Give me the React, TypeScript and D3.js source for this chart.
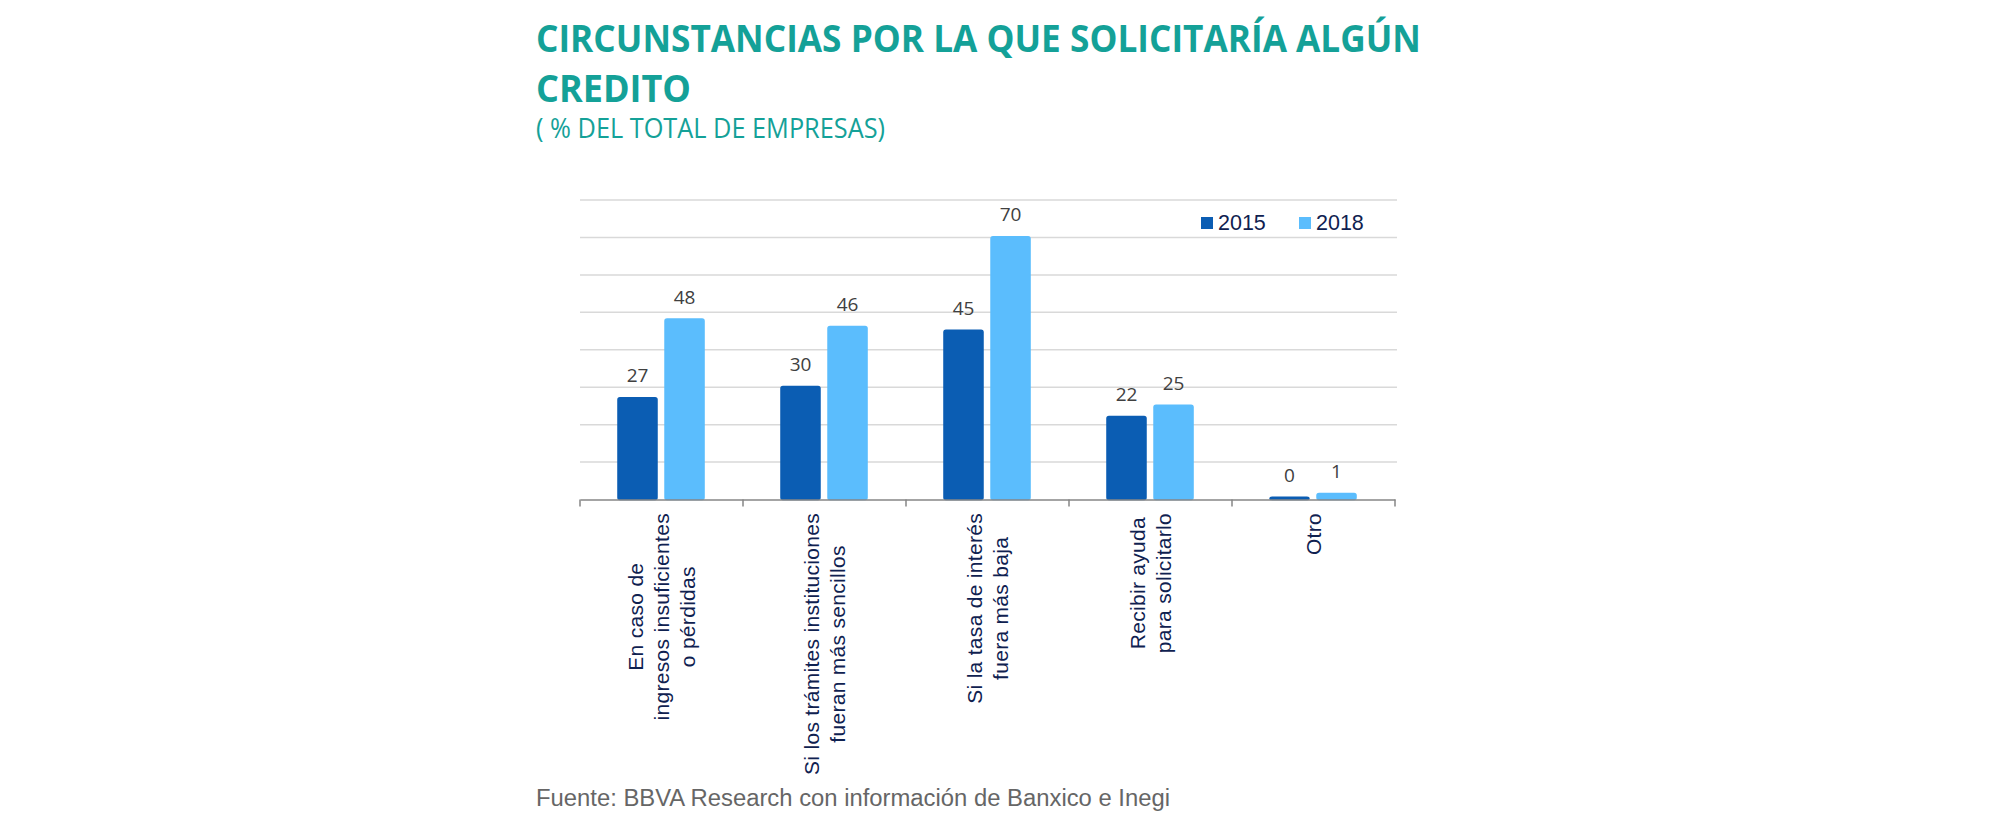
import { useRef, useEffect } from 'react'
import * as d3 from 'd3'

const CATEGORIES = [
  ['En caso de', 'ingresos insuficientes', 'o pérdidas'],
  ['Si los trámites instituciones', 'fueran más sencillos'],
  ['Si la tasa de interés', 'fuera más baja'],
  ['Recibir ayuda', 'para solicitarlo'],
  ['Otro'],
]
const YEARS = ['2015', '2018']
const VALUES_2015 = [27, 30, 45, 22, 0.4]
const VALUES_2018 = [48, 46, 70, 25, 1.4]
const Y_TICKS = [10, 20, 30, 40, 50, 60, 70, 80]

const COLORS = ['#0b5db3', '#5bbdfd']
const TEAL = '#14a198'
const NAVY = '#0f2150'

export default function App() {
  const svgRef = useRef<SVGSVGElement>(null)

  useEffect(() => {
    if (!svgRef.current) return
    const svg = d3.select(svgRef.current)
    svg.selectAll('*').remove()

    const width = 2001
    const height = 828
    svg.attr('width', width).attr('height', height).attr('viewBox', `0 0 ${width} ${height}`)

    // Titles
    svg.append('text')
      .attr('x', 536).attr('y', 52)
      .attr('textLength', 885).attr('lengthAdjust', 'spacingAndGlyphs')
      .style('font-family', '"Open Sans", sans-serif').style('font-weight', 700)
      .style('font-size', '37px').style('fill', TEAL)
      .text('CIRCUNSTANCIAS POR LA QUE SOLICITARÍA ALGÚN')
    svg.append('text')
      .attr('x', 536).attr('y', 102)
      .attr('textLength', 155).attr('lengthAdjust', 'spacingAndGlyphs')
      .style('font-family', '"Open Sans", sans-serif').style('font-weight', 700)
      .style('font-size', '37px').style('fill', TEAL)
      .text('CREDITO')
    svg.append('text')
      .attr('x', 536).attr('y', 138)
      .attr('textLength', 349).attr('lengthAdjust', 'spacingAndGlyphs')
      .style('font-family', '"Open Sans", sans-serif')
      .style('font-size', '27px').style('fill', TEAL)
      .text('( % DEL TOTAL DE EMPRESAS)')

    const keys = CATEGORIES.map((_, i) => String(i))
    const x0 = d3.scaleBand().domain(keys).range([580, 1395]).padding(0)
    const bw = x0.bandwidth()
    const x1 = d3.scaleBand().domain(YEARS).range([bw * 0.233, bw * 0.761]).paddingInner(0.17)
    const y = d3.scaleLinear().domain([0, 80]).range([499.5, 200])

    // Gridlines
    svg.append('g')
      .selectAll('line')
      .data(Y_TICKS)
      .join('line')
      .attr('x1', 580).attr('x2', 1397)
      .attr('y1', d => y(d)).attr('y2', d => y(d))
      .attr('stroke', '#d9d9d9').attr('stroke-width', 1.5)

    // Bars
    const data = CATEGORIES.map((_, i) => [VALUES_2015[i], VALUES_2018[i]])
    const groups = svg.selectAll('.grp')
      .data(data)
      .join('g')
      .attr('class', 'grp')
      .attr('transform', (_, i) => `translate(${x0(String(i))},0)`)

    groups.selectAll('rect')
      .data(d => d.map((v, j) => ({ v, j })))
      .join('rect')
      .attr('x', d => x1(YEARS[d.j])!)
      .attr('y', d => y(d.v) - 0.75)
      .attr('width', x1.bandwidth())
      .attr('height', d => y(0) - y(d.v) + 0.75)
      .attr('rx', 2)
      .attr('fill', d => COLORS[d.j])
      .attr('stroke', d => COLORS[d.j]).attr('stroke-width', 1.5)

    groups.selectAll('.lbl')
      .data(d => d.map((v, j) => ({ v, j })))
      .join('text')
      .attr('class', 'lbl')
      .attr('x', d => x1(YEARS[d.j])! + x1.bandwidth() / 2)
      .attr('y', d => y(d.v) - 16)
      .attr('text-anchor', 'middle')
      .style('font-family', '"Open Sans", sans-serif')
      .style('font-size', '19px').style('fill', '#404040')
      .text(d => d3.format('.0f')(Math.floor(d.v)))

    // X axis
    const axis = svg.append('g').attr('transform', `translate(0,${y(0)})`)
      .call(d3.axisBottom(x0).tickSize(0).tickFormat(() => ''))
    axis.select('.domain').attr('stroke', '#868686').attr('stroke-width', 1.5)
    axis.selectAll('.tick').remove()
    const bounds = keys.map(k => x0(k)!).concat([x0(keys[keys.length - 1])! + bw])
    axis.selectAll('.sep')
      .data(bounds)
      .join('line')
      .attr('class', 'sep')
      .attr('x1', d => d).attr('x2', d => d)
      .attr('y1', 0).attr('y2', 7)
      .attr('stroke', '#868686').attr('stroke-width', 1.5)

    // Category labels (rotated, lines centred on each other)
    CATEGORIES.forEach((lines, i) => {
      const cx = x0(String(i))! + bw / 2
      const lh = 26
      const t = svg.append('text')
        .attr('transform', `translate(${cx - ((lines.length - 1) * lh) / 2 + 7},513) rotate(-90)`)
        .attr('text-anchor', 'middle')
        .style('font-family', '"Liberation Sans", Arial, sans-serif')
        .style('font-size', '21px').style('letter-spacing', '0.3px').style('fill', NAVY)
      const spans = lines.map((l, k) =>
        t.append('tspan').attr('x', 0).attr('y', k * lh).attr('text-anchor', 'middle').text(l))
      const maxLen = d3.max(spans, s => (s.node() as SVGTextContentElement).getComputedTextLength()) ?? 0
      spans.forEach(s => s.attr('x', -maxLen / 2))
    })

    // Legend
    const legend = svg.append('g').attr('transform', 'translate(1201,217)')
    YEARS.forEach((yr, i) => {
      const g = legend.append('g').attr('transform', `translate(${i * 98},0)`)
      g.append('rect').attr('width', 12).attr('height', 12).attr('fill', COLORS[i])
      g.append('text').attr('x', 17).attr('y', 12.5)
        .style('font-family', '"Liberation Sans", Arial, sans-serif')
        .style('font-size', '21.5px').style('fill', NAVY).text(yr)
    })

    // Source
    svg.append('text')
      .attr('x', 536).attr('y', 806)
      .attr('textLength', 634).attr('lengthAdjust', 'spacingAndGlyphs')
      .style('font-family', '"Liberation Sans", Arial, sans-serif')
      .style('font-size', '23px').style('fill', '#666666')
      .text('Fuente: BBVA Research con información de Banxico e Inegi')
  }, [])

  return <svg ref={svgRef} style={{ position: 'absolute', left: 0, top: 0, display: 'block' }} />
}
